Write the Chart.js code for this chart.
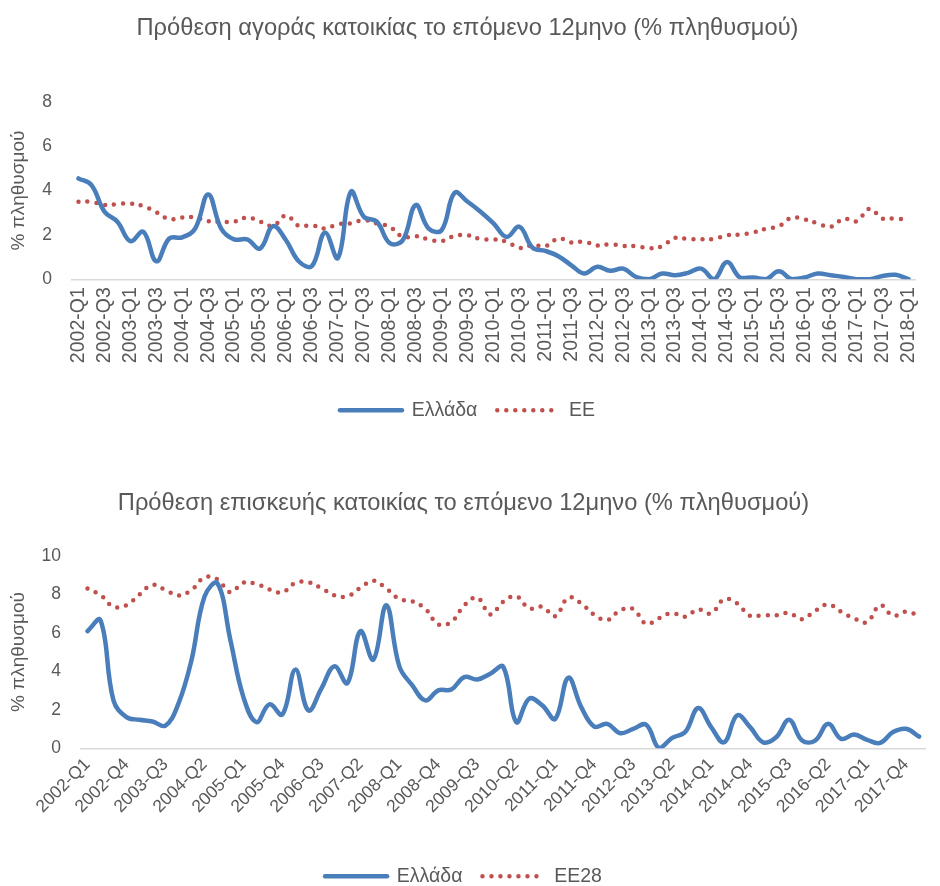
<!DOCTYPE html>
<html>
<head>
<meta charset="utf-8">
<script src="https://cdn.jsdelivr.net/npm/chart.js@4.4.1/dist/chart.umd.min.js"></script>
<style>
html,body{margin:0;padding:0;background:#fff;overflow:hidden;width:940px;height:886px;}
#c1{position:absolute;left:0;top:0;}
#c2{position:absolute;left:0;top:446px;}
</style>
</head>
<body>
<canvas id="c1" width="940" height="430"></canvas>
<canvas id="c2" width="940" height="450"></canvas>
<script>
const quarters = [
 "2002-Q1","2002-Q2","2002-Q3","2002-Q4","2003-Q1","2003-Q2","2003-Q3","2003-Q4",
 "2004-Q1","2004-Q2","2004-Q3","2004-Q4","2005-Q1","2005-Q2","2005-Q3","2005-Q4",
 "2006-Q1","2006-Q2","2006-Q3","2006-Q4","2007-Q1","2007-Q2","2007-Q3","2007-Q4",
 "2008-Q1","2008-Q2","2008-Q3","2008-Q4","2009-Q1","2009-Q2","2009-Q3","2009-Q4",
 "2010-Q1","2010-Q2","2010-Q3","2010-Q4","2011-Q1","2011-Q2","2011-Q3","2011-Q4",
 "2012-Q1","2012-Q2","2012-Q3","2012-Q4","2013-Q1","2013-Q2","2013-Q3","2013-Q4",
 "2014-Q1","2014-Q2","2014-Q3","2014-Q4","2015-Q1","2015-Q2","2015-Q3","2015-Q4",
 "2016-Q1","2016-Q2","2016-Q3","2016-Q4","2017-Q1","2017-Q2","2017-Q3","2017-Q4",
 "2018-Q1"
];

// Chart 1: intention to buy a home (% of population)
const buyGreece = [
 4.55,4.25,3.05,2.6,1.72,2.14,0.81,1.84,1.89,2.29,3.83,2.29,1.8,1.8,1.39,2.4,
 1.76,0.8,0.6,2.1,0.96,3.95,2.82,2.6,1.63,1.76,3.35,2.29,2.22,3.9,3.5,3.05,
 2.52,1.91,2.37,1.43,1.28,1.04,0.63,0.26,0.56,0.38,0.48,0.1,0.0,0.26,0.18,0.29,
 0.48,0.0,0.78,0.08,0.08,0.0,0.36,0.0,0.08,0.26,0.18,0.1,0.0,0.0,0.15,0.2,
 0.0
];
const buyEU = [
 3.5,3.5,3.35,3.39,3.42,3.3,3.02,2.71,2.79,2.79,2.62,2.6,2.6,2.79,2.6,2.41,
 2.88,2.41,2.44,2.29,2.49,2.52,2.67,2.52,2.37,1.91,1.95,1.8,1.72,1.96,1.99,1.81,
 1.8,1.69,1.42,1.54,1.49,1.84,1.66,1.69,1.52,1.58,1.5,1.49,1.4,1.49,1.87,1.81,
 1.8,1.82,1.99,2.02,2.11,2.28,2.4,2.78,2.7,2.52,2.37,2.73,2.62,3.18,2.74,2.75,
 2.64
];

// Chart 2: intention to renovate a home (% of population)
const repairGreece = [
 6.09,6.66,2.49,1.62,1.48,1.39,1.18,2.32,4.57,7.88,8.58,5.62,2.66,1.36,2.28,1.76,
 4.09,1.97,3.1,4.26,3.39,6.09,4.61,7.44,4.26,3.27,2.49,3.01,3.05,3.7,3.58,3.88,
 4.23,1.36,2.58,2.23,1.53,3.67,2.14,1.13,1.27,0.78,1.01,1.22,0.0,0.54,0.84,2.09,
 1.1,0.31,1.71,1.1,0.31,0.57,1.48,0.4,0.4,1.27,0.49,0.71,0.44,0.28,0.84,1.01,
 0.61
];
const repairEU28 = [
 8.31,7.97,7.36,7.44,8.0,8.5,8.23,7.95,8.23,8.89,8.78,8.12,8.61,8.54,8.26,8.1,
 8.61,8.63,8.33,7.95,7.9,8.35,8.71,8.31,7.76,7.64,7.25,6.44,6.57,7.43,7.84,6.96,
 7.62,7.91,7.27,7.36,6.87,7.84,7.53,6.94,6.66,7.18,7.24,6.47,6.77,7.03,6.84,7.22,
 7.01,7.76,7.53,6.89,6.92,6.92,7.03,6.71,7.15,7.48,7.1,6.75,6.56,7.44,6.89,7.1,
 6.91
];

const BLUE = '#4a7ebb';
const RED = '#c0504d';
const TXT = '#595959';
const FONT = '"Liberation Sans", Arial, sans-serif';

Chart.defaults.font.family = FONT;
Chart.defaults.color = TXT;

function legendLabels(chart) {
  return chart.data.datasets.map((ds, i) => ({
    text: ds.label,
    fillStyle: ds.borderColor,
    strokeStyle: ds.borderColor,
    lineWidth: ds.borderWidth,
    lineDash: ds.borderDash || [],
    lineCap: ds.borderCapStyle || 'butt',
    pointStyle: 'line',
    fontColor: TXT,
    hidden: false,
    datasetIndex: i
  }));
}

function buildChart(id, cfg) {
  return new Chart(document.getElementById(id), {
    type: 'line',
    data: {
      labels: quarters,
      datasets: [
        { label: 'Ελλάδα', data: cfg.greece, borderColor: BLUE, backgroundColor: BLUE,
          borderWidth: 4.5, tension: 0.4, pointRadius: 0, fill: false,
          borderCapStyle: 'round', borderJoinStyle: 'round' },
        { label: cfg.euLabel, data: cfg.eu, borderColor: RED, backgroundColor: RED,
          borderWidth: 4.5, borderDash: [0, 9], borderCapStyle: 'round',
          tension: 0.4, pointRadius: 0, fill: false }
      ]
    },
    options: {
      responsive: false, animation: false, devicePixelRatio: 1,
      layout: { padding: { left: 0, right: cfg.padRight, top: 0, bottom: 0 } },
      plugins: {
        title: { display: true, text: cfg.title, color: TXT,
                 font: { size: 23.7, weight: 'normal' },
                 padding: { top: cfg.titleTop, bottom: cfg.titleBottom } },
        legend: { position: 'bottom',
                  labels: { usePointStyle: true, pointStyleWidth: 62, padding: 20,
                            color: TXT, font: { size: 19.5 }, generateLabels: legendLabels } },
        tooltip: { enabled: false }
      },
      scales: {
        x: {
          offset: true,
          grid: { display: false, drawTicks: false },
          border: { display: true, color: '#d9d9d9', width: 1.5 },
          ticks: {
            autoSkip: false, minRotation: cfg.rot, maxRotation: cfg.rot,
            padding: cfg.xPad, color: TXT, font: { size: cfg.xFont },
            callback: function (v, i) { return i % cfg.every === 0 ? this.getLabelForValue(v) : ''; }
          },
          afterFit: s => { s.height = cfg.xHeight; }
        },
        y: {
          min: 0, max: cfg.yMax,
          ticks: { stepSize: 2, padding: cfg.yPad, color: TXT, font: { size: 17.5 } },
          grid: { display: false, drawTicks: false },
          border: { display: false },
          title: { display: true, text: '% πληθυσμού', color: TXT, font: { size: 19 },
                   padding: { top: 7, bottom: 0 } },
          afterFit: s => { s.width = cfg.yWidth; }
        }
      }
    }
  });
}

buildChart('c1', {
  greece: buyGreece, eu: buyEU, euLabel: 'EE',
  title: 'Πρόθεση αγοράς κατοικίας το επόμενο 12μηνο (% πληθυσμού)',
  titleTop: 13.8, titleBottom: 59.76, padRight: 5,
  rot: 90, every: 2, xPad: 8, xHeight: 101.25, xFont: 19.5,
  yMax: 8, yPad: 20, yWidth: 72
});

buildChart('c2', {
  greece: repairGreece, eu: repairEU28, euLabel: 'EE28',
  title: 'Πρόθεση επισκευής κατοικίας το επόμενο 12μηνο (% πληθυσμού)',
  titleTop: 42.8, titleBottom: 38.76, padRight: 13,
  rot: 45, every: 3, xPad: 6, xHeight: 98.25, xFont: 17.5,
  yMax: 10, yPad: 20, yWidth: 81
});
</script>
</body>
</html>
